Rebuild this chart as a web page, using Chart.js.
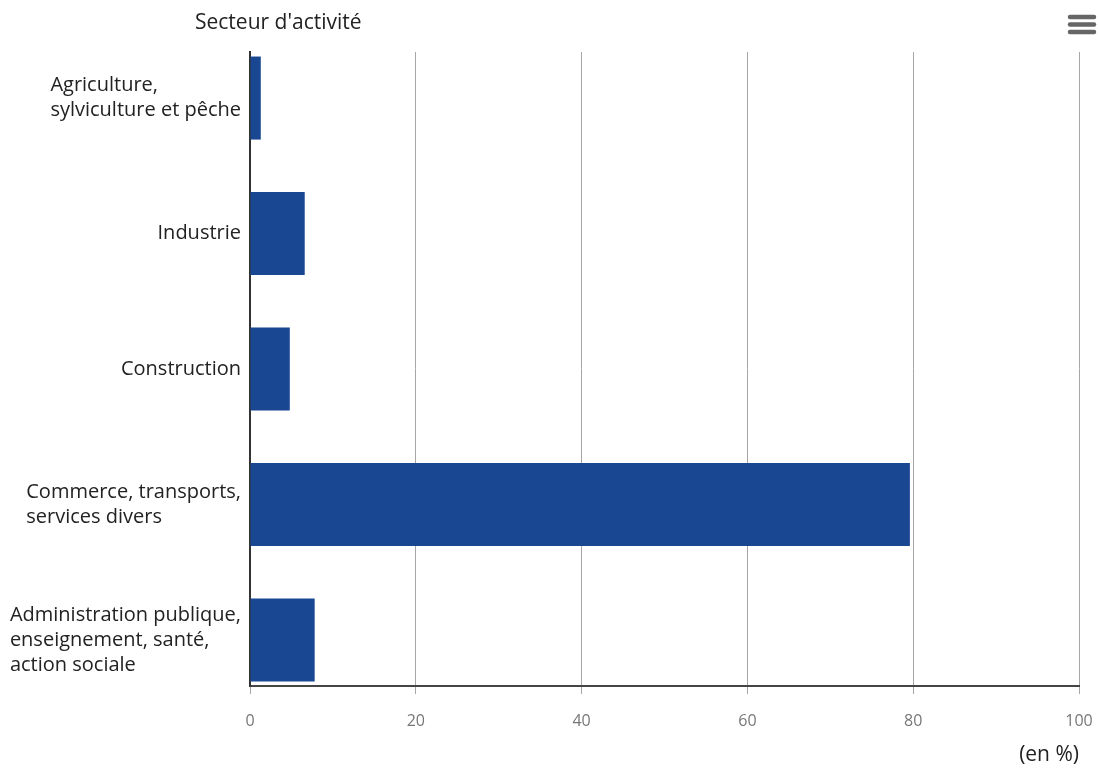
<!DOCTYPE html>
<html lang="fr">
<head>
    <meta charset="UTF-8">
    <title>Secteur d'activité</title>
</head>
<script src="https://cdn.jsdelivr.net/npm/chart.js"></script>
<style>
body {
    margin: 0;
    background: #ffffff;
}
#wrap {
    position: relative;
    width: 1098px;
    height: 769px;
}
</style>
<body>
    <div id="wrap"><canvas id="BarChart"></canvas></div>
    <script>
        // categories and values (en %)
        const categories = [
            ["Agriculture,", "sylviculture et pêche"],
            ["Industrie"],
            ["Construction"],
            ["Commerce, transports,", "services divers"],
            ["Administration publique,", "enseignement, santé,", "action sociale"]
        ];
        const shares = [1.3, 6.6, 4.8, 79.6, 7.8];
        const xTicks = [0, 20, 40, 60, 80, 100];

        const fontFamily = "'Open Sans', sans-serif";

        // category labels (left aligned lines, block ending at the axis), title, unit, menu icon
        const extras = {
            id: 'extras',
            afterDraw(chart) {
                const ctx = chart.ctx;
                const area = chart.chartArea;
                const yScale = chart.scales.y;
                ctx.save();
                ctx.fillStyle = '#222';
                ctx.textBaseline = 'middle';

                ctx.font = "20px " + fontFamily;
                ctx.textAlign = 'left';
                const lineH = 25;
                categories.forEach((lines, i) => {
                    const w = Math.max(...lines.map(l => ctx.measureText(l).width));
                    const x = area.left - 9 - w;
                    const yc = yScale.getPixelForValue(i);
                    const y0 = yc - (lines.length - 1) * lineH / 2;
                    lines.forEach((l, k) => ctx.fillText(l, x, y0 + k * lineH));
                });

                ctx.font = "21px " + fontFamily;
                ctx.fillText("Secteur d'activité", 195, 23);
                ctx.textAlign = 'right';
                ctx.fillText("(en %)", area.right, 755);

                ctx.strokeStyle = '#666';
                ctx.lineWidth = 4.5;
                ctx.lineCap = 'round';
                [17, 24.5, 32].forEach(y => {
                    ctx.beginPath();
                    ctx.moveTo(1070, y);
                    ctx.lineTo(1094, y);
                    ctx.stroke();
                });
                ctx.restore();
            }
        };

        const ctx = document.getElementById('BarChart').getContext('2d');
        new Chart(ctx, {
            type: 'bar',
            data: {
                datasets: [{
                    data: shares.map((v, i) => ({ x: v, y: i })),
                    backgroundColor: '#194791',
                    borderWidth: 0,
                    barPercentage: 0.613,
                    categoryPercentage: 1
                }]
            },
            options: {
                indexAxis: 'y',
                responsive: true,
                maintainAspectRatio: false,
                animation: false,
                layout: {
                    padding: { top: 52, right: 0, bottom: 33, left: 0 }
                },
                plugins: {
                    legend: { display: false },
                    title: { display: false },
                    tooltip: { enabled: false }
                },
                scales: {
                    x: {
                        type: 'linear',
                        min: 0,
                        max: 100,
                        afterBuildTicks: scale => {
                            scale.ticks = xTicks.map(v => ({ value: v }));
                        },
                        afterFit: scale => {
                            scale.height = 50;
                            scale.paddingLeft = 0;
                            scale.paddingRight = 19;
                        },
                        grid: {
                            color: '#a6a6a6',
                            lineWidth: 1,
                            tickLength: 8,
                            drawTicks: true
                        },
                        border: { display: true, color: '#444', width: 2 },
                        ticks: {
                            color: '#777',
                            padding: 18,
                            font: { family: fontFamily, size: 16 }
                        }
                    },
                    y: {
                        type: 'linear',
                        reverse: true,
                        offset: false,
                        min: -0.34,
                        max: categories.length - 1 + 0.34,
                        afterBuildTicks: scale => {
                            scale.ticks = categories.map((c, i) => ({ value: i }));
                        },
                        afterFit: scale => { scale.width = 250; },
                        grid: { display: false, offset: false },
                        border: { display: true, color: '#333', width: 2 },
                        ticks: { display: false }
                    }
                }
            },
            plugins: [extras]
        });
    </script>
</body>
</html>
